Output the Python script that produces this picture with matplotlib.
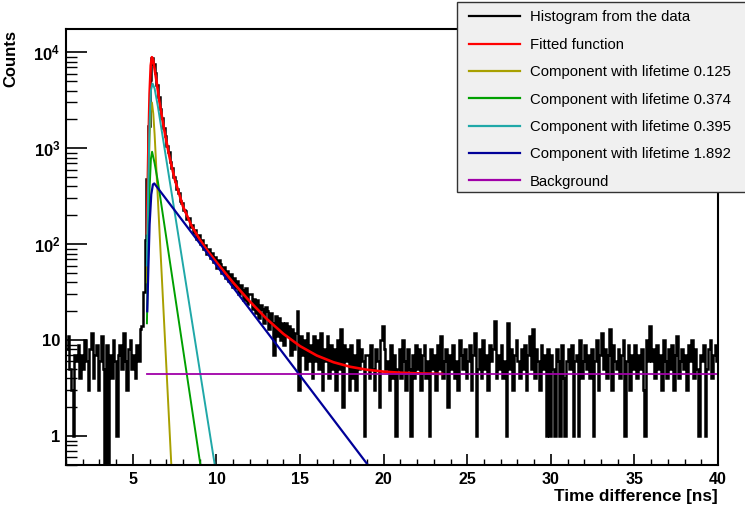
import numpy as np
import matplotlib
matplotlib.use("Agg")
import matplotlib.pyplot as plt
from matplotlib.lines import Line2D
from matplotlib.patches import Rectangle
from matplotlib.ticker import MultipleLocator, LogLocator, FuncFormatter, NullFormatter

plt.rcParams["font.family"] = ["Liberation Sans", "DejaVu Sans"]
plt.rcParams["font.weight"] = "bold"
plt.rcParams["mathtext.fontset"] = "custom"
plt.rcParams["mathtext.rm"] = "Liberation Sans:bold"
plt.rcParams["mathtext.bf"] = "Liberation Sans:bold"
plt.rcParams["mathtext.it"] = "Liberation Sans:bold"

# ---- histogram from the data: 0.1 ns bins starting at 1.0 ns ----
BIN_START = 1.0
BIN_WIDTH = 0.1
counts = [
    8, 11, 5, 3, 1, 7, 6, 9, 4, 7,                      # 1.0
    5, 10, 6, 3, 8, 12, 4, 7, 9, 3,                     # 2.0
    6, 11, 5, 0, 9, 0, 7, 4, 10, 6,                     # 3.0
    1, 7, 9, 5, 12, 6, 3, 8, 10, 5,                     # 4.0
    7, 4, 9, 6, 13, 14, 32, 110, 480, 1700,             # 5.0
    5200, 8700, 7600, 6100, 4550, 3420, 2580, 2090, 1610, 1350,  # 6.0
    1050, 905, 715, 630, 505, 455, 372, 345, 282, 270,  # 7.0
    226, 220, 181, 186, 152, 160, 132, 140, 114, 124,   # 8.0
    101, 110, 89, 99, 80, 90, 72, 81, 66, 73,           # 9.0
    57, 68, 62, 50, 58, 44, 53, 41, 49, 36,             # 10.0
    44, 35, 41, 30, 38, 33, 26, 35, 24, 30,             # 11.0
    30, 21, 27, 19, 26, 17, 23, 21, 15, 22,             # 12.0
    20, 13, 19, 15, 7, 18, 11, 17, 10, 15,              # 13.0
    9, 15, 11, 14, 7, 13, 8, 12, 20, 3,                 # 14.0
    11, 7, 10, 5, 12, 6, 9, 4, 11, 6,                   # 15.0
    10, 5, 12, 3, 8, 6, 11, 4, 9, 5,                    # 16.0
    8, 3, 10, 5, 13, 2, 9, 6, 8, 3,                     # 17.0
    9, 4, 7, 3, 10, 5, 8, 6, 1, 7,                      # 18.0
    7, 4, 9, 5, 3, 8, 6, 2, 10, 14,                     # 19.0
    8, 5, 6, 3, 9, 4, 7, 1, 5, 8,                       # 20.0
    4, 10, 6, 3, 8, 5, 1, 7, 4, 9,                      # 21.0
    5, 8, 3, 7, 9, 4, 6, 1, 8, 5,                       # 22.0
    7, 3, 9, 5, 11, 4, 6, 8, 2, 7,                      # 23.0
    5, 9, 4, 6, 3, 10, 7, 5, 8, 4,                      # 24.0
    6, 9, 3, 7, 12, 1, 5, 8, 4, 10,                     # 25.0
    5, 7, 3, 9, 6, 8, 16, 4, 7, 5,                      # 26.0
    9, 4, 6, 1, 15, 5, 8, 3, 7, 10,                     # 27.0
    6, 4, 8, 5, 9, 3, 7, 11, 5, 13,                     # 28.0
    4, 8, 6, 3, 9, 5, 7, 1, 8, 1,                       # 29.0
    7, 5, 1, 8, 6, 1, 9, 4, 1, 6,                       # 30.0
    8, 5, 9, 1, 6, 7, 1, 10, 4, 6,                      # 31.0
    9, 5, 7, 4, 8, 1, 6, 10, 3, 7,                      # 32.0
    12, 5, 8, 4, 7, 13, 3, 9, 6, 5,                     # 33.0
    8, 4, 7, 10, 1, 6, 9, 3, 7, 5,                      # 34.0
    9, 4, 7, 5, 8, 3, 1, 10, 6, 14,                     # 35.0
    6, 8, 4, 9, 5, 7, 3, 10, 6, 4,                      # 36.0
    8, 5, 9, 3, 7, 11, 4, 6, 8, 5,                      # 37.0
    7, 3, 9, 6, 10, 4, 8, 5, 1, 7,                      # 38.0
    6, 9, 1, 5, 8, 10, 4, 7, 9, 6,                      # 39.0
]

# ---- fitted function ----
fit_x = [5.84, 5.92, 6.0, 6.07, 6.14, 6.22, 6.3, 6.4, 6.6, 6.8, 7.0, 7.2, 7.5,
         8.0, 8.5, 9.0, 9.5, 10, 11, 12, 13, 14, 15, 16, 17, 18, 19, 20, 21,
         22, 23.5]
fit_y = [130, 850, 3700, 7300, 8900, 8200, 6700, 5200, 2970, 1840, 1190, 800,
         478, 247, 157, 112, 84, 65, 39.8, 25.3, 16.7, 11.65, 8.67, 6.92, 5.89,
         5.28, 4.92, 4.70, 4.58, 4.51, 4.45]

# ---- components ----
comp1_x = [5.84, 5.92, 6.0, 6.07, 6.14, 6.22, 6.3, 7.3]
comp1_y = [40, 300, 1300, 2500, 3000, 2300, 1400, 0.5]
comp2_x = [5.84, 5.92, 6.0, 6.08, 6.15, 6.3, 6.5, 9.04]
comp2_y = [15, 90, 380, 780, 920, 700, 445, 0.5]
comp3_x = [5.84, 5.92, 6.0, 6.08, 6.18, 6.3, 6.5, 9.9]
comp3_y = [60, 400, 1900, 4000, 4730, 4200, 2700, 0.5]
comp4_x = [5.86, 5.93, 6.0, 6.1, 6.2, 6.28, 19.06]
comp4_y = [20, 60, 160, 330, 420, 430, 0.5]
bkg_x = [5.84, 40.0]
bkg_y = [4.4, 4.4]

labels = ["Histogram from the data", "Fitted function",
          "Component with lifetime 0.125", "Component with lifetime 0.374",
          "Component with lifetime 0.395", "Component with lifetime 1.892",
          "Background"]
colors = ["black", "#ff0000", "#a8a000", "#00a000", "#20a8a8", "#000099", "#a000a8"]

W, H = 745, 507
fig = plt.figure(figsize=(W / 100, H / 100), dpi=100)
ax = fig.add_axes([66 / W, 1 - 465 / H, (718 - 66) / W, (465 - 29) / H])

edges = BIN_START + BIN_WIDTH * np.arange(len(counts) + 1)
ax.stairs(np.maximum(np.array(counts, dtype=float), 0.05), edges,
          baseline=None, color=colors[0], lw=1.8)

ax.plot(fit_x, fit_y, color=colors[1], lw=1.9)
ax.plot(comp1_x, comp1_y, color=colors[2], lw=1.4)
ax.plot(comp2_x, comp2_y, color=colors[3], lw=1.4)
ax.plot(comp3_x, comp3_y, color=colors[4], lw=1.4)
ax.plot(comp4_x, comp4_y, color=colors[5], lw=1.6)
ax.plot(bkg_x, bkg_y, color=colors[6], lw=1.3)

ax.set_yscale("log")
ax.set_xlim(1, 40)
ax.set_ylim(0.5, 1.75e4)

ax.xaxis.set_major_locator(MultipleLocator(5))
ax.xaxis.set_minor_locator(MultipleLocator(1))
ax.yaxis.set_major_locator(LogLocator(base=10))
ax.yaxis.set_minor_locator(LogLocator(base=10, subs=np.arange(2, 10)))
ax.yaxis.set_minor_formatter(NullFormatter())


def ylab(v, pos):
    if v < 0.9:
        return ""
    k = int(round(np.log10(v)))
    if k == 0:
        return "1"
    if k == 1:
        return "10"
    return r"$\mathbf{10^{%d}}$" % k


ax.yaxis.set_major_formatter(FuncFormatter(ylab))
ax.tick_params(axis="x", which="major", direction="in", length=8, width=1.2,
               labelsize=11.5, pad=5, top=False)
ax.tick_params(axis="x", which="minor", direction="in", length=4, width=1.0, top=False)
ax.tick_params(axis="y", which="major", direction="in", length=15, width=1.2,
               labelsize=12, pad=4, right=False)
ax.tick_params(axis="y", which="minor", direction="in", length=8, width=1.0, right=False)
for sp in ax.spines.values():
    sp.set_linewidth(1.5)

fig.text(3 / W, 1 - 30 / H, "Counts", rotation=90, ha="left", va="top",
         fontsize=12, fontweight="bold")
fig.text(718 / W, 1 - 489 / H, "Time difference [ns]", ha="right", va="top",
         fontsize=12.4, fontweight="bold")

# legend box
fig.add_artist(Rectangle((457.5 / W, 1 - 192 / H), (W - 457.5) / W + 0.01, (192 - 1.7) / H,
                         transform=fig.transFigure, facecolor="#f0f0f0",
                         edgecolor="#333333", lw=1.0, zorder=3))
handles = [Line2D([], [], color=c, lw=1.6) for c in colors]
fig.legend(handles, labels, loc="upper left", bbox_to_anchor=(462 / W, 1 - 3 / H),
           frameon=False, borderpad=0, handlelength=3.4, handletextpad=0.65,
           labelspacing=0.9, prop={"size": 10.7, "weight": "normal"}).set_zorder(4)

fig.savefig("out.png", dpi=100)
